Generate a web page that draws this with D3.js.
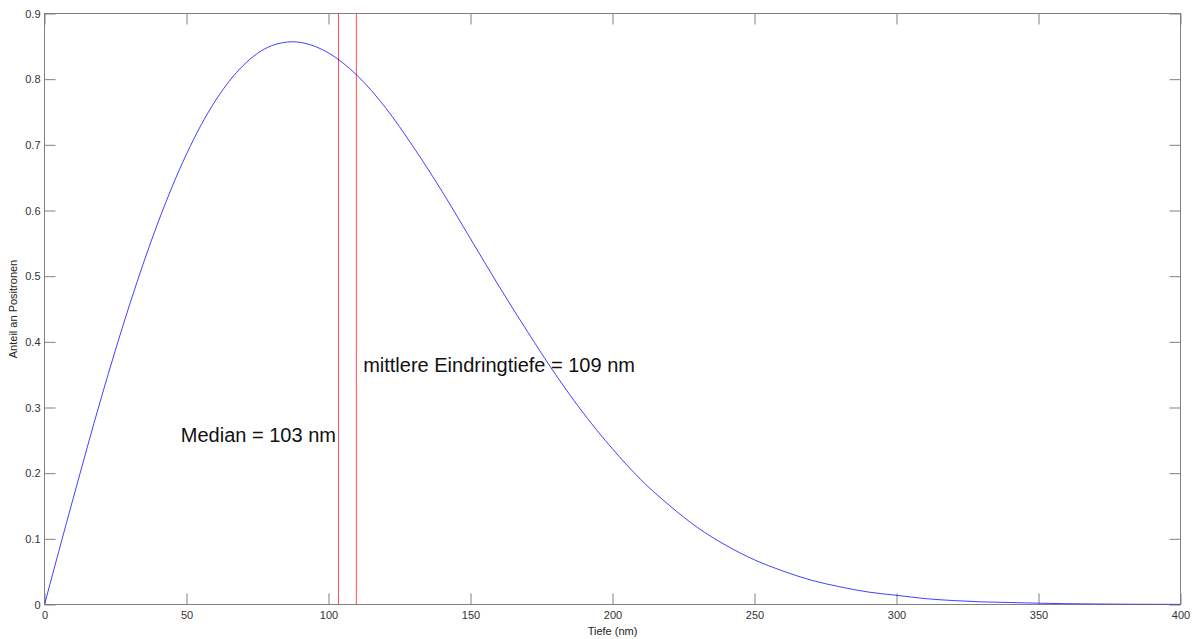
<!DOCTYPE html>
<html>
<head>
<meta charset="utf-8">
<script src="https://cdn.jsdelivr.net/npm/d3@7"></script>
<style>
  html, body { margin: 0; padding: 0; background: #fff; }
  svg { display: block; font-family: "Liberation Sans", Arial, sans-serif; }
</style>
</head>
<body>
<svg id="chart" width="1193" height="639"></svg>
<script>
// ---- data ----
const depth = [0, 10, 20, 30, 40, 50, 60, 70, 80, 87.5, 90, 100, 110, 120, 130, 140, 150, 160, 170, 180, 190,
               200, 210, 220, 230, 240, 250, 260, 270, 280, 290, 300, 310, 320, 330, 340, 350, 360, 370, 380, 390, 400];
const fraction = [0, 0.160, 0.315, 0.457, 0.582, 0.686, 0.766, 0.821, 0.851, 0.857, 0.856, 0.840, 0.806, 0.757, 0.696,
                  0.629, 0.557, 0.485, 0.416, 0.350, 0.290, 0.237, 0.190, 0.151, 0.117, 0.090, 0.068, 0.051, 0.037,
                  0.027, 0.019, 0.014, 0.009, 0.006, 0.004, 0.003, 0.002, 0.0012, 0.0008, 0.0005, 0.0003, 0.0002];
const markerDepth = [103.5, 109.8];
const labelText = ["Median = 103 nm", "mittlere Eindringtiefe = 109 nm"];
const labelX = [48, 112.2];
const labelY = [0.2475, 0.3536];
const xTicks = [0, 50, 100, 150, 200, 250, 300, 350, 400];
const yTicks = [0, 0.1, 0.2, 0.3, 0.4, 0.5, 0.6, 0.7, 0.8, 0.9];
const xTitle = "Tiefe (nm)";
const yTitle = "Anteil an Positronen";

// ---- layout ----
const L = 44.5, R = 1180.5, T = 13.5, B = 604.5;
const svg = d3.select("#chart");
const x = d3.scaleLinear().domain([0, 400]).range([L, R]);
const y = d3.scaleLinear().domain([0, 0.9]).range([B, T]);
const axisColor = "#808080";
const tickLen = 11;

const fmtY = d => d === 0 ? "0" : d3.format(".1f")(d);

// bottom axis
const gb = svg.append("g").attr("transform", `translate(0,${B})`)
  .call(d3.axisBottom(x).tickValues(xTicks).tickSize(-tickLen).tickPadding(7).tickFormat(d3.format("d")));
// top axis (ticks only)
const gt = svg.append("g").attr("transform", `translate(0,${T})`)
  .call(d3.axisTop(x).tickValues(xTicks).tickSize(-tickLen).tickFormat(""));
// left axis
const gl = svg.append("g").attr("transform", `translate(${L},0)`)
  .call(d3.axisLeft(y).tickValues(yTicks).tickSize(-tickLen).tickPadding(4).tickFormat(fmtY));
// right axis (ticks only)
const gr = svg.append("g").attr("transform", `translate(${R},0)`)
  .call(d3.axisRight(y).tickValues(yTicks).tickSize(-tickLen).tickFormat(""));

[gb, gt, gl, gr].forEach(g => {
  g.select(".domain").remove();
  g.selectAll(".tick line").attr("stroke", axisColor).attr("stroke-width", 1);
  g.selectAll(".tick text").attr("fill", "#333").attr("font-size", 11)
    .attr("font-family", "'Liberation Sans', Arial, sans-serif");
});

// box
svg.append("rect")
  .attr("x", L).attr("y", T).attr("width", R - L).attr("height", B - T)
  .attr("fill", "none").attr("stroke", axisColor).attr("stroke-width", 1);

// clip
svg.append("clipPath").attr("id", "plotclip").append("rect")
  .attr("x", L).attr("y", T).attr("width", R - L).attr("height", B - T);

// red marker lines
svg.append("g").attr("clip-path", "url(#plotclip)")
  .selectAll("line").data(markerDepth).join("line")
  .attr("x1", d => x(d)).attr("x2", d => x(d))
  .attr("y1", y(0)).attr("y2", y(0.9))
  .attr("stroke", "#ff0000").attr("stroke-opacity", 0.7).attr("stroke-width", 1);

// curve
const line = d3.line().x((d, i) => x(depth[i])).y(d => y(d)).curve(d3.curveMonotoneX);
svg.append("path").attr("clip-path", "url(#plotclip)")
  .attr("d", line(fraction))
  .attr("fill", "none").attr("stroke", "#0000ff").attr("stroke-opacity", 0.75).attr("stroke-width", 1);

// annotations
svg.append("g").selectAll("text").data(labelText).join("text")
  .attr("x", (d, i) => x(labelX[i])).attr("y", (d, i) => y(labelY[i]))
  .attr("font-size", 20).attr("fill", "#111").text(d => d);

// axis titles
svg.append("text").attr("x", (L + R) / 2).attr("y", 635)
  .attr("text-anchor", "middle").attr("font-size", 11).attr("fill", "#222").text(xTitle);
svg.append("text")
  .attr("transform", `translate(17,${(T + B) / 2}) rotate(-90)`)
  .attr("text-anchor", "middle").attr("font-size", 11).attr("fill", "#222").text(yTitle);
</script>
</body>
</html>
